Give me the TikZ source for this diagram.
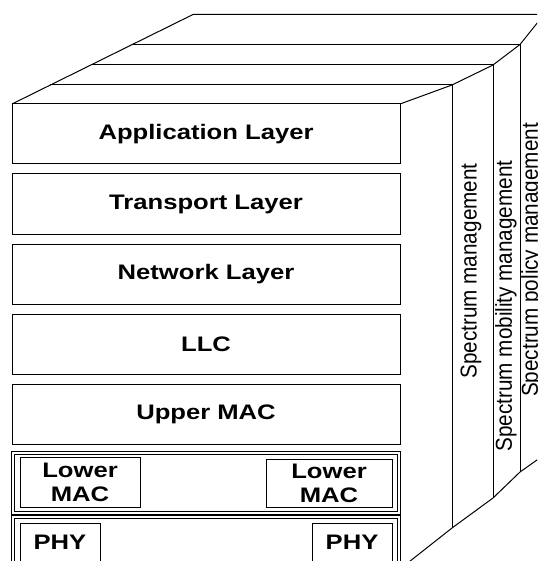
\documentclass[tikz,border=0pt]{standalone}
\usepackage{fontspec}
\setmainfont{Liberation Sans}
\newfontfamily\layerfont[FakeStretch=1.22]{Liberation Sans}
\newfontfamily\panelfont[FakeStretch=0.9]{Liberation Sans}
\usetikzlibrary{positioning}
\def\rimline{(400,104) -- (452,85) -- (493,65) -- (520,44.5) -- (544,14.5)}
\def\footline{(400,569) -- (452,528) -- (493,498) -- (520,472) -- (544,455)}
\def\roofline{(12,104) -- (193,14.5) -- (544,14.5)}
\tikzset{
  layer/.style={draw, minimum width=388pt, minimum height=60pt, inner sep=0pt,
    font=\layerfont\bfseries\fontsize{21}{24}\selectfont},
  twinbox/.style={draw, double, line width=0.8pt, double distance=1.6pt,
    minimum width=386pt, minimum height=60pt, inner sep=0pt},
  subbox/.style={draw, inner sep=0pt,
    font=\layerfont\bfseries\fontsize{21}{24}\selectfont},
  panel/.style={rotate=90, inner sep=0pt, font=\panelfont\fontsize{23}{26}\selectfont}
}
\begin{document}
\begin{tikzpicture}[x=1pt,y=-1pt,line width=1pt]
\useasboundingbox (0,0) rectangle (537,561);
\clip (0,0) rectangle (537,561);
\node[layer] (app) at (206,134) {Application Layer};
\node[layer] (trans) at (206,204) {Transport Layer};
\node[layer] (net) at (206,274) {Network Layer};
\node[layer] (llc) at (206,344) {LLC};
\node[layer] (umac) at (206,414) {Upper MAC};
\node[twinbox] (lmac) at (206,483) {};
\node[twinbox] (phy) at (206,547) {};
\node[subbox, align=center, minimum width=120pt, minimum height=50pt] (lmacL) at (80,482) {Lower\\MAC};
\node[subbox, align=center, minimum width=126pt, minimum height=48pt] (lmacR) at (329,483) {Lower\\MAC};
\node[subbox, minimum width=80pt, minimum height=48pt, text depth=10pt] (phyL) at (60,547) {PHY};
\node[subbox, minimum width=80pt, minimum height=48pt, text depth=10pt] (phyR) at (352,547) {PHY};
\draw \roofline;
\draw \rimline;
\draw \footline;
\draw (50.4,85) -- (452,85) -- (452,528);
\draw (90.9,65) -- (493,65) -- (493,498);
\draw (132.3,44.5) -- (520,44.5) -- (520,472);
\node[panel] (specman) at (471,271) {Spectrum management};
\node[panel] (specmob) at (506,306) {Spectrum mobility management};
\node[panel] (specpol) at (532,260) {Spectrum policy management};
\end{tikzpicture}
\end{document}
